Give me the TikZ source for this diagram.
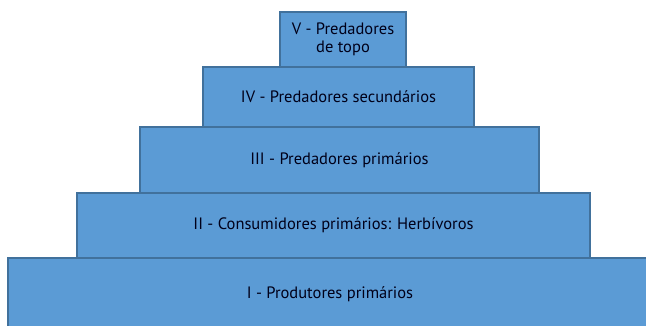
\documentclass[tikz,border=0pt]{standalone}
\usepackage{fontspec}
\setmainfont{PT Sans}
\usepackage{tikz}
\usepackage{xcolor}
\definecolor{levelfill}{HTML}{5B9BD5}
\definecolor{leveldraw}{HTML}{41719C}
\colorlet{leveltext}{black!90!blue}
\tikzstyle{level}=[draw=leveldraw,fill=levelfill,line width=1.2pt,inner sep=0,outer sep=0,text=leveltext,align=center,font=\fontsize{16.5}{18.5}\selectfont]
\begin{document}
\begin{tikzpicture}[x=1pt,y=-1pt]
 \useasboundingbox (0,0) rectangle (646,326);
 \begin{scope}
 \clip (0,0) rectangle (646,326);
 \node[level,minimum width=644,minimum height=72] (prod) at (330,294) {I - Produtores primários};
 \end{scope}
 \node[level,minimum width=513,minimum height=65] (cons) at (333.5,225.5) {II - Consumidores primários: Herbívoros};
 \node[level,minimum width=399,minimum height=66] (predI) at (339.5,160) {III - Predadores primários};
 \node[level,minimum width=271,minimum height=60] (predII) at (338.5,97) {IV - Predadores secundários};
 \node[level,minimum width=126,minimum height=55] (topo) at (343,39.5) {V - Predadores\\de topo};
\end{tikzpicture}
\end{document}
